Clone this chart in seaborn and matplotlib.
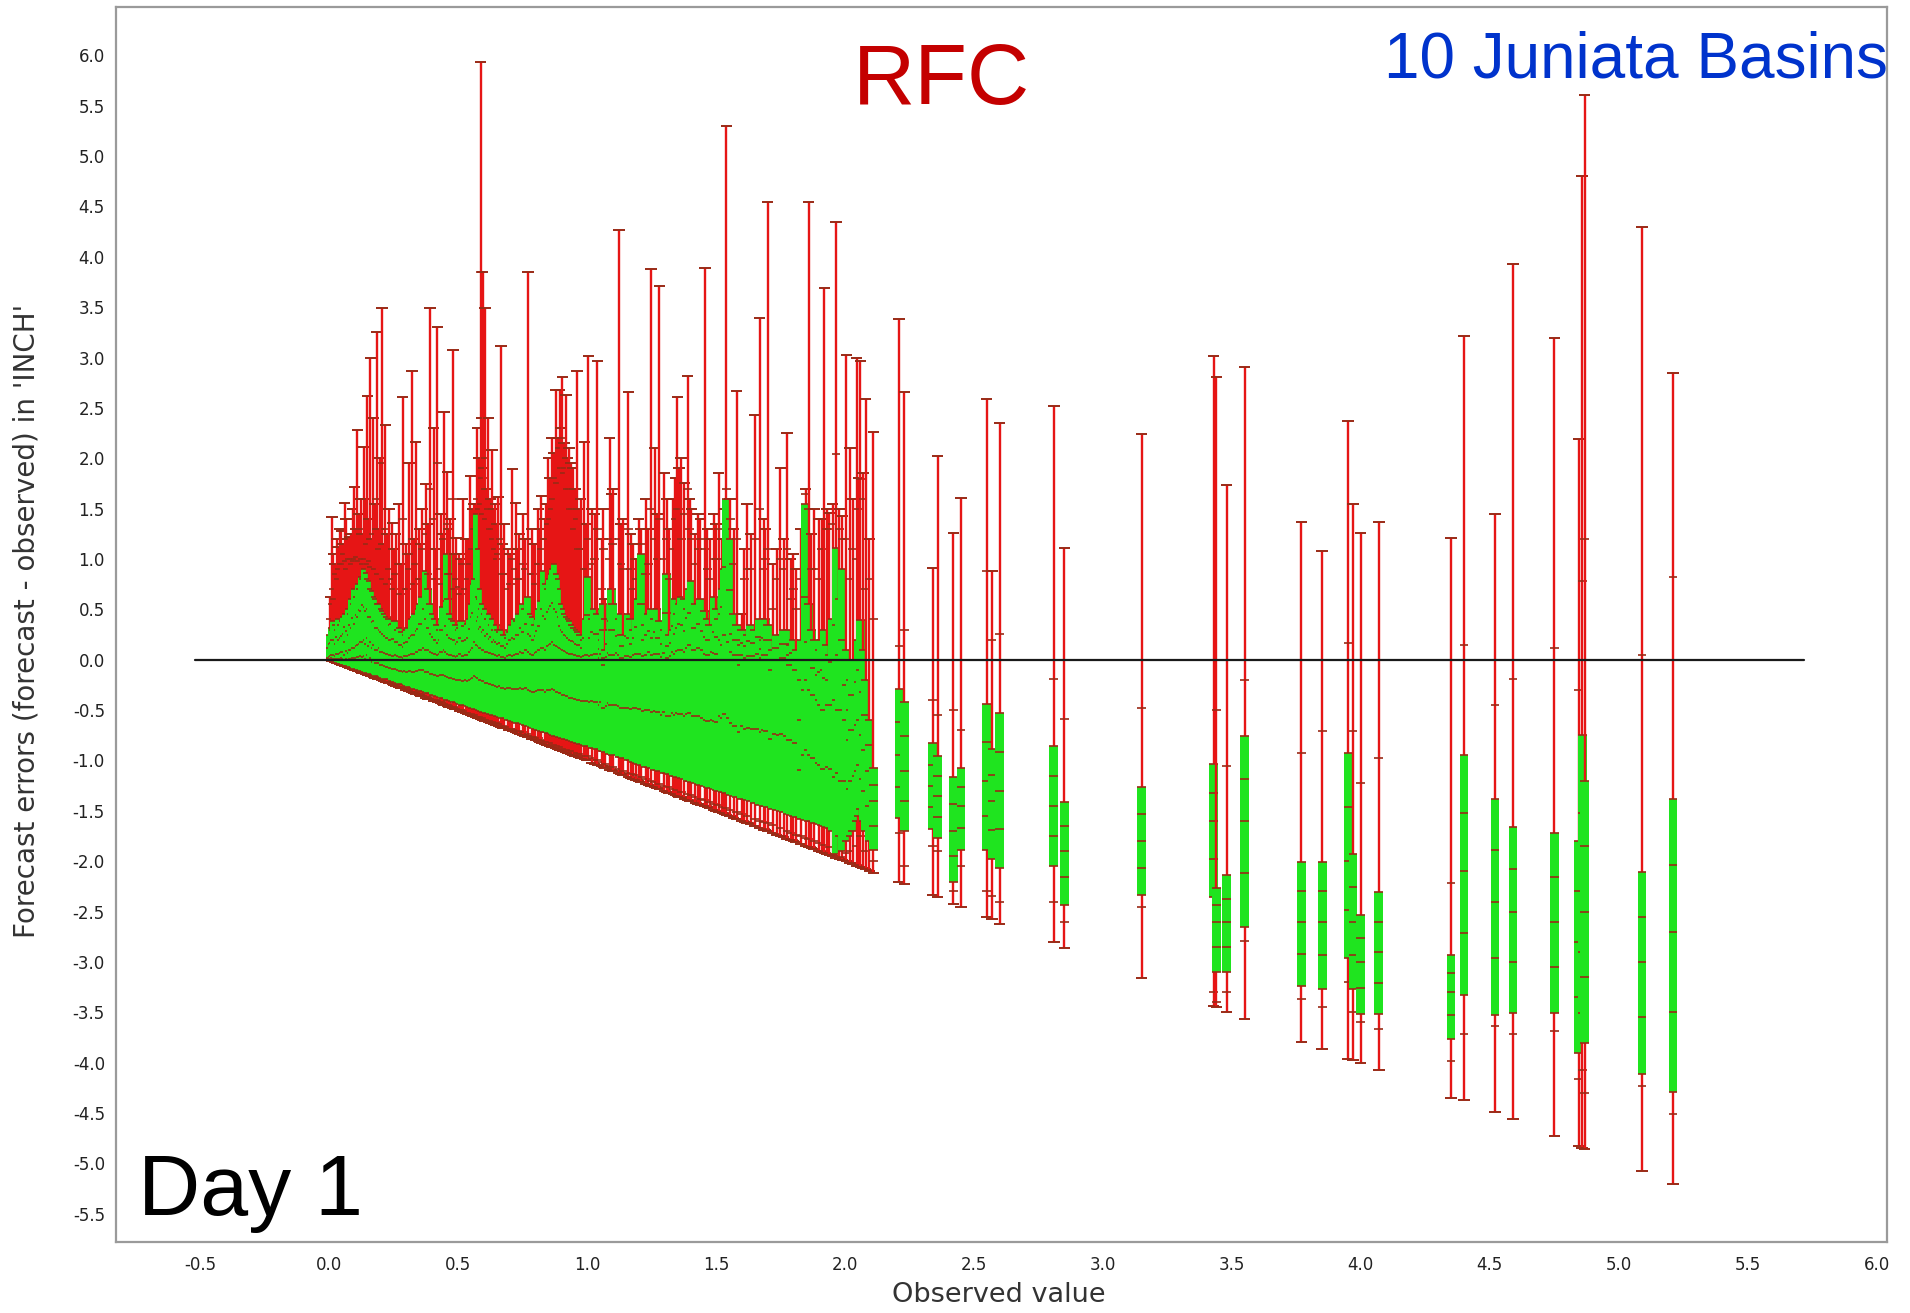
import numpy as np
import pandas as pd
import matplotlib
matplotlib.use("Agg")
import matplotlib.pyplot as plt
import seaborn as sns

# ---------------- data ----------------
# one entry per observed value: error quantiles of the forecasts (inches)
obs = [0.005, 0.012, 0.022, 0.035, 0.048, 0.060, 0.072, 0.085, 0.098, 0.110,
       0.122, 0.135, 0.148, 0.160, 0.172, 0.184, 0.196, 0.205, 0.218, 0.232,
       0.245, 0.258, 0.270, 0.285, 0.298, 0.310, 0.322, 0.336, 0.350, 0.362,
       0.376, 0.392, 0.405, 0.420, 0.433, 0.445, 0.458, 0.470, 0.480, 0.492,
       0.505, 0.518, 0.530, 0.548, 0.562, 0.575, 0.588, 0.596, 0.605, 0.618,
       0.632, 0.645, 0.656, 0.666, 0.680, 0.695, 0.710, 0.724, 0.738, 0.752,
       0.771, 0.785, 0.800, 0.812, 0.823, 0.836, 0.850, 0.864, 0.878, 0.894,
       0.905, 0.918, 0.930, 0.945, 0.961, 0.975, 0.990, 1.005, 1.020, 1.040,
       1.058, 1.070, 1.088, 1.100, 1.124, 1.140, 1.160, 1.178, 1.190, 1.210,
       1.228, 1.248, 1.262, 1.280, 1.300, 1.318, 1.335, 1.350, 1.365, 1.390,
       1.405, 1.420, 1.440, 1.457, 1.475, 1.492, 1.510, 1.525, 1.540, 1.555,
       1.580, 1.600, 1.620, 1.650, 1.670, 1.685, 1.700, 1.720, 1.750, 1.775,
       1.790, 1.810, 1.830, 1.848, 1.860, 1.880, 1.900, 1.920, 1.940, 1.965,
       1.990, 2.005, 2.020, 2.045, 2.060, 2.080, 2.110,
       0.017, 0.029, 0.041, 0.054, 0.066, 0.079, 0.091, 0.104, 0.116, 0.128,
       0.141, 0.154, 0.166, 0.178, 0.190, 0.212, 0.225, 0.251, 0.278, 0.304,
       0.329, 0.356, 0.384, 0.412, 0.439, 0.464, 0.486, 0.511, 0.539, 0.555,
       0.568, 0.582, 0.592, 0.600, 0.611, 0.625, 0.638, 0.651, 0.673, 0.702,
       0.731, 0.760, 0.792, 0.817, 0.843, 0.857, 0.871, 0.886, 0.899, 0.911,
       0.924, 0.937, 0.953, 0.968, 0.998, 1.030, 1.064, 1.094, 1.132, 1.169,
       1.200, 1.238, 1.271, 1.309, 1.342, 1.357, 1.378, 1.398, 1.430, 1.466,
       1.500, 1.532, 1.568, 1.610, 1.635, 1.692, 1.735, 1.762, 1.800, 1.870,
       1.910, 1.930, 1.952, 1.978, 2.030, 2.052, 2.070, 2.095,
       2.21, 2.23, 2.34, 2.36, 2.42, 2.45, 2.55, 2.57, 2.60, 2.81,
       2.85, 3.15, 3.43, 3.44, 3.48, 3.55, 3.77, 3.85, 3.95, 3.97,
       4.00, 4.07, 4.35, 4.40, 4.52, 4.59, 4.75, 4.845, 4.858, 4.868,
       5.09, 5.21]

err_min = [-0.005, -0.012, -0.02, -0.035, -0.05, -0.06, -0.07, -0.085, -0.10, -0.11,
           -0.12, -0.135, -0.15, -0.16, -0.17, -0.185, -0.195, -0.205, -0.22, -0.23,
           -0.245, -0.26, -0.27, -0.285, -0.30, -0.31, -0.32, -0.335, -0.35, -0.36,
           -0.375, -0.39, -0.405, -0.42, -0.43, -0.445, -0.46, -0.47, -0.48, -0.49,
           -0.505, -0.52, -0.53, -0.55, -0.56, -0.575, -0.59, -0.595, -0.605, -0.62,
           -0.63, -0.645, -0.655, -0.665, -0.68, -0.695, -0.71, -0.72, -0.74, -0.75,
           -0.77, -0.785, -0.80, -0.81, -0.825, -0.835, -0.85, -0.865, -0.88, -0.895,
           -0.905, -0.92, -0.93, -0.945, -0.96, -0.975, -0.99, -1.00, -1.02, -1.04,
           -1.055, -1.07, -1.09, -1.10, -1.12, -1.14, -1.16, -1.18, -1.19, -1.21,
           -1.23, -1.25, -1.26, -1.28, -1.30, -1.32, -1.335, -1.35, -1.365, -1.39,
           -1.40, -1.42, -1.44, -1.455, -1.475, -1.49, -1.51, -1.525, -1.54, -1.555,
           -1.58, -1.60, -1.62, -1.65, -1.67, -1.685, -1.70, -1.72, -1.75, -1.775,
           -1.79, -1.81, -1.83, -1.85, -1.86, -1.88, -1.90, -1.92, -1.94, -1.965,
           -1.99, -2.00, -2.02, -2.045, -2.06, -2.08, -2.12,
           -0.017, -0.03, -0.04, -0.055, -0.065, -0.08, -0.09, -0.105, -0.115, -0.13,
           -0.14, -0.155, -0.165, -0.18, -0.19, -0.21, -0.225, -0.25, -0.28, -0.305,
           -0.33, -0.355, -0.385, -0.41, -0.44, -0.465, -0.485, -0.51, -0.54, -0.555,
           -0.57, -0.58, -0.59, -0.60, -0.61, -0.625, -0.64, -0.65, -0.675, -0.70,
           -0.73, -0.76, -0.79, -0.82, -0.845, -0.86, -0.87, -0.885, -0.90, -0.91,
           -0.925, -0.935, -0.955, -0.97, -1.00, -1.03, -1.065, -1.095, -1.13, -1.17,
           -1.20, -1.24, -1.27, -1.31, -1.34, -1.36, -1.38, -1.40, -1.43, -1.465,
           -1.50, -1.53, -1.57, -1.61, -1.635, -1.69, -1.735, -1.76, -1.80, -1.87,
           -1.91, -1.93, -1.95, -1.98, -2.03, -2.05, -2.07, -2.10,
           -2.21, -2.23, -2.34, -2.36, -2.42, -2.45, -2.55, -2.57, -2.62, -2.80,
           -2.86, -3.16, -3.44, -3.45, -3.50, -3.57, -3.79, -3.86, -3.96, -3.97,
           -4.00, -4.07, -4.35, -4.37, -4.49, -4.56, -4.73, -4.83, -4.85, -4.86,
           -5.08, -5.20]

err_p10 = [-0.004, -0.01, -0.018, -0.032, -0.046, -0.056, -0.065, -0.08, -0.094, -0.10,
           -0.113, -0.126, -0.142, -0.15, -0.16, -0.175, -0.185, -0.195, -0.21, -0.218,
           -0.233, -0.245, -0.255, -0.27, -0.285, -0.295, -0.30, -0.318, -0.33, -0.342,
           -0.355, -0.37, -0.385, -0.40, -0.41, -0.424, -0.44, -0.45, -0.46, -0.47,
           -0.485, -0.50, -0.505, -0.525, -0.535, -0.55, -0.565, -0.57, -0.58, -0.595,
           -0.605, -0.62, -0.63, -0.64, -0.655, -0.67, -0.685, -0.695, -0.71, -0.72,
           -0.74, -0.755, -0.77, -0.78, -0.795, -0.805, -0.82, -0.83, -0.845, -0.86,
           -0.87, -0.885, -0.895, -0.91, -0.925, -0.94, -0.955, -0.96, -0.98, -1.00,
           -1.015, -1.03, -1.05, -1.06, -1.08, -1.10, -1.12, -1.13, -1.14, -1.16,
           -1.18, -1.20, -1.21, -1.23, -1.25, -1.265, -1.28, -1.295, -1.31, -1.33,
           -1.345, -1.36, -1.38, -1.39, -1.41, -1.43, -1.445, -1.46, -1.475, -1.49,
           -1.515, -1.535, -1.55, -1.58, -1.60, -1.61, -1.625, -1.645, -1.675, -1.70,
           -1.715, -1.735, -1.75, -1.77, -1.78, -1.80, -1.82, -1.84, -1.86, -1.95,
           -1.96, -1.92, -1.90, -1.85, -1.75, -1.90, -2.00,
           -0.015, -0.027, -0.038, -0.05, -0.06, -0.075, -0.086, -0.10, -0.11, -0.12,
           -0.135, -0.15, -0.16, -0.17, -0.18, -0.205, -0.22, -0.245, -0.27, -0.295,
           -0.32, -0.345, -0.375, -0.40, -0.43, -0.455, -0.475, -0.50, -0.53, -0.545,
           -0.56, -0.57, -0.58, -0.59, -0.60, -0.615, -0.63, -0.64, -0.665, -0.69,
           -0.72, -0.75, -0.78, -0.81, -0.835, -0.85, -0.86, -0.875, -0.89, -0.90,
           -0.915, -0.925, -0.945, -0.96, -0.99, -1.02, -1.055, -1.085, -1.12, -1.16,
           -1.19, -1.23, -1.26, -1.30, -1.33, -1.35, -1.37, -1.39, -1.42, -1.455,
           -1.49, -1.52, -1.56, -1.60, -1.625, -1.68, -1.725, -1.75, -1.79, -1.86,
           -1.90, -1.92, -1.94, -1.97, -2.02, -2.04, -2.06, -2.09,
           -1.72, -2.05, -1.85, -1.90, -2.30, -2.05, -2.30, -2.35, -2.40, -2.40,
           -2.60, -2.45, -3.30, -3.40, -3.30, -2.79, -3.37, -3.45, -3.20, -3.50,
           -3.60, -3.67, -3.98, -3.72, -3.64, -3.72, -3.69, -4.16, -4.07, -4.30,
           -4.23, -4.51]

box_low = [-0.003, -0.008, -0.015, -0.028, -0.04, -0.05, -0.058, -0.07, -0.085, -0.09,
           -0.10, -0.11, -0.13, -0.135, -0.14, -0.16, -0.165, -0.175, -0.19, -0.195,
           -0.21, -0.22, -0.23, -0.245, -0.25, -0.27, -0.27, -0.29, -0.30, -0.31,
           -0.32, -0.33, -0.35, -0.36, -0.37, -0.38, -0.40, -0.40, -0.41, -0.42,
           -0.43, -0.45, -0.45, -0.47, -0.48, -0.49, -0.50, -0.51, -0.52, -0.53,
           -0.54, -0.55, -0.56, -0.57, -0.58, -0.60, -0.61, -0.62, -0.63, -0.64,
           -0.66, -0.67, -0.69, -0.70, -0.71, -0.72, -0.73, -0.74, -0.76, -0.77,
           -0.78, -0.79, -0.80, -0.81, -0.83, -0.84, -0.85, -0.86, -0.88, -0.89,
           -0.91, -0.92, -0.94, -0.95, -0.97, -0.98, -1.00, -1.01, -1.02, -1.04,
           -1.06, -1.07, -1.09, -1.10, -1.12, -1.13, -1.15, -1.16, -1.17, -1.20,
           -1.21, -1.22, -1.24, -1.25, -1.27, -1.28, -1.30, -1.31, -1.32, -1.34,
           -1.36, -1.38, -1.39, -1.42, -1.44, -1.45, -1.46, -1.48, -1.50, -1.53,
           -1.54, -1.56, -1.58, -1.59, -1.60, -1.62, -1.63, -1.65, -1.67, -1.93,
           -1.90, -1.80, -1.75, -1.60, -1.48, -1.70, -1.89,
           -0.012, -0.022, -0.033, -0.045, -0.055, -0.065, -0.075, -0.088, -0.10, -0.11,
           -0.12, -0.13, -0.14, -0.15, -0.16, -0.18, -0.19, -0.215, -0.24, -0.26,
           -0.28, -0.30, -0.33, -0.35, -0.38, -0.40, -0.42, -0.44, -0.46, -0.48,
           -0.49, -0.50, -0.51, -0.52, -0.53, -0.54, -0.55, -0.56, -0.58, -0.60,
           -0.63, -0.65, -0.68, -0.70, -0.72, -0.73, -0.75, -0.76, -0.77, -0.78,
           -0.79, -0.80, -0.82, -0.83, -0.86, -0.88, -0.91, -0.94, -0.97, -1.00,
           -1.03, -1.06, -1.09, -1.12, -1.15, -1.16, -1.18, -1.20, -1.23, -1.26,
           -1.29, -1.31, -1.35, -1.38, -1.40, -1.45, -1.49, -1.51, -1.55, -1.60,
           -1.64, -1.66, -1.70, -1.75, -1.70, -1.55, -1.60, -1.80,
           -1.57, -1.70, -1.68, -1.77, -2.21, -1.89, -1.89, -1.98, -2.07, -2.05,
           -2.43, -2.34, -2.36, -3.10, -3.10, -2.65, -3.24, -3.27, -2.96, -3.27,
           -3.52, -3.52, -3.76, -3.33, -3.53, -3.51, -3.51, -3.90, -3.51, -3.80,
           -4.11, -4.29]

err_p30 = [0.01, 0.01, 0.02, 0.01, 0.01, 0.02, 0.00, 0.00, 0.01, 0.02,
           0.03, 0.04, 0.04, 0.05, 0.02, 0.00, -0.03, -0.03, -0.05, -0.07,
           -0.08, -0.09, -0.09, -0.11, -0.12, -0.12, -0.11, -0.12, -0.11, -0.10,
           -0.10, -0.12, -0.14, -0.15, -0.16, -0.15, -0.15, -0.17, -0.18, -0.19,
           -0.20, -0.20, -0.21, -0.21, -0.19, -0.16, -0.18, -0.20, -0.21, -0.23,
           -0.24, -0.25, -0.26, -0.27, -0.28, -0.29, -0.28, -0.29, -0.29, -0.28,
           -0.28, -0.30, -0.32, -0.32, -0.30, -0.30, -0.32, -0.30, -0.29, -0.32,
           -0.33, -0.35, -0.36, -0.38, -0.39, -0.40, -0.41, -0.41, -0.42, -0.42,
           -0.45, -0.48, -0.46, -0.45, -0.45, -0.48, -0.48, -0.49, -0.48, -0.49,
           -0.51, -0.50, -0.52, -0.52, -0.55, -0.56, -0.56, -0.55, -0.54, -0.56,
           -0.53, -0.56, -0.56, -0.58, -0.61, -0.60, -0.62, -0.56, -0.54, -0.58,
           -0.66, -0.72, -0.69, -0.69, -0.69, -0.72, -0.71, -0.79, -0.75, -0.76,
           -0.80, -0.83, -1.09, -0.95, -0.90, -0.98, -1.02, -1.08, -1.06, -1.16,
           -1.20, -1.20, -1.28, -1.15, -1.04, -1.30, -1.65,
           0.01, 0.01, 0.01, 0.01, 0.01, 0.01, 0.01, 0.02, 0.02, 0.03,
           0.03, 0.01, 0.00, -0.02, -0.03, -0.05, -0.06, -0.08, -0.10, -0.11,
           -0.11, -0.11, -0.12, -0.14, -0.16, -0.16, -0.18, -0.20, -0.20, -0.20,
           -0.18, -0.17, -0.18, -0.20, -0.21, -0.23, -0.24, -0.25, -0.26, -0.28,
           -0.29, -0.29, -0.31, -0.31, -0.30, -0.30, -0.30, -0.30, -0.32, -0.33,
           -0.35, -0.36, -0.38, -0.39, -0.41, -0.41, -0.42, -0.43, -0.46, -0.48,
           -0.48, -0.50, -0.51, -0.52, -0.53, -0.53, -0.54, -0.54, -0.56, -0.60,
           -0.61, -0.58, -0.63, -0.66, -0.68, -0.70, -0.74, -0.74, -0.80, -0.95,
           -1.04, -1.08, -1.08, -1.12, -1.20, -1.10, -1.18, -1.45,
           -1.26, -1.40, -1.46, -1.56, -1.95, -1.67, -1.55, -1.69, -1.68, -1.75,
           -2.16, -2.07, -1.98, -2.85, -2.85, -2.12, -2.92, -2.93, -2.48, -2.93,
           -3.26, -3.21, -3.53, -2.71, -2.96, -3.00, -3.05, -3.35, -2.90, -3.15,
           -3.55, -3.50]

err_median = [0.02, 0.03, 0.05, 0.04, 0.06, 0.08, 0.05, 0.07, 0.10, 0.12,
              0.15, 0.18, 0.20, 0.22, 0.18, 0.15, 0.10, 0.12, 0.08, 0.06,
              0.05, 0.04, 0.05, 0.03, 0.02, 0.04, 0.05, 0.06, 0.08, 0.10,
              0.12, 0.10, 0.08, 0.06, 0.05, 0.08, 0.10, 0.06, 0.05, 0.04,
              0.03, 0.06, 0.04, 0.05, 0.10, 0.18, 0.15, 0.12, 0.10, 0.08,
              0.07, 0.06, 0.05, 0.04, 0.03, 0.02, 0.05, 0.04, 0.06, 0.08,
              0.10, 0.08, 0.05, 0.07, 0.10, 0.12, 0.10, 0.15, 0.18, 0.14,
              0.12, 0.10, 0.08, 0.06, 0.05, 0.04, 0.03, 0.05, 0.04, 0.06,
              0.02, -0.05, 0.03, 0.05, 0.07, 0.02, 0.04, 0.03, 0.05, 0.06,
              0.04, 0.08, 0.05, 0.06, 0.03, 0.02, 0.04, 0.06, 0.10, 0.08,
              0.15, 0.10, 0.12, 0.10, 0.05, 0.08, 0.06, 0.20, 0.25, 0.18,
              0.05, -0.05, 0.02, 0.04, 0.06, 0.02, 0.05, -0.10, 0.00, 0.02,
              -0.05, -0.10, -0.60, -0.30, -0.20, -0.35, -0.40, -0.50, -0.45, -0.40,
              -0.50, -0.60, -0.80, -0.70, -0.60, -0.90, -1.40,
              0.04, 0.05, 0.06, 0.07, 0.08, 0.09, 0.10, 0.12, 0.14, 0.16,
              0.18, 0.16, 0.14, 0.12, 0.10, 0.08, 0.07, 0.05, 0.04, 0.04,
              0.06, 0.08, 0.10, 0.07, 0.06, 0.08, 0.05, 0.04, 0.05, 0.08,
              0.12, 0.15, 0.14, 0.12, 0.10, 0.08, 0.07, 0.06, 0.05, 0.04,
              0.05, 0.07, 0.06, 0.08, 0.12, 0.14, 0.16, 0.15, 0.13, 0.11,
              0.09, 0.07, 0.06, 0.05, 0.04, 0.05, 0.06, 0.07, 0.05, 0.04,
              0.06, 0.05, 0.06, 0.07, 0.08, 0.09, 0.10, 0.12, 0.10, 0.06,
              0.07, 0.15, 0.08, 0.05, 0.04, 0.05, 0.00, 0.02, -0.05, -0.30,
              -0.45, -0.50, -0.45, -0.50, -0.70, -0.65, -0.75, -1.10,
              -0.95, -1.10, -1.25, -1.35, -1.70, -1.45, -1.20, -1.40, -1.30, -1.45,
              -1.90, -1.80, -1.60, -2.60, -2.60, -1.60, -2.60, -2.60, -2.00, -2.60,
              -3.00, -2.90, -3.30, -2.10, -2.40, -2.50, -2.60, -2.80, -2.30, -2.50,
              -3.00, -2.70]

err_p70 = [0.12, 0.16, 0.20, 0.16, 0.20, 0.24, 0.18, 0.25, 0.32, 0.36,
           0.42, 0.48, 0.52, 0.50, 0.42, 0.38, 0.32, 0.30, 0.26, 0.22,
           0.20, 0.21, 0.18, 0.15, 0.13, 0.18, 0.22, 0.25, 0.29, 0.36,
           0.50, 0.32, 0.26, 0.20, 0.17, 0.30, 0.58, 0.25, 0.22, 0.20,
           0.16, 0.22, 0.19, 0.22, 0.42, 0.80, 0.38, 0.31, 0.28, 0.24,
           0.21, 0.18, 0.18, 0.16, 0.14, 0.12, 0.20, 0.22, 0.25, 0.32,
           0.36, 0.26, 0.20, 0.24, 0.34, 0.50, 0.40, 0.50, 0.56, 0.47,
           0.34, 0.28, 0.24, 0.20, 0.18, 0.15, 0.12, 0.44, 0.22, 0.26,
           0.11, 0.02, 0.16, 0.30, 0.24, 0.14, 0.24, 0.16, 0.22, 0.55,
           0.20, 0.29, 0.22, 0.22, 0.16, 0.14, 0.17, 0.26, 0.36, 0.29,
           0.46, 0.32, 0.36, 0.29, 0.20, 0.35, 0.23, 0.45, 0.92, 0.69,
           0.20, 0.05, 0.14, 0.17, 0.23, 0.11, 0.20, 0.00, 0.12, 0.16,
           0.05, 0.00, -0.20, 0.62, 0.18, -0.08, -0.15, -0.10, -0.20, 0.35,
           0.20, -0.25, -0.50, -0.35, -0.10, -0.55, -1.24,
           0.17, 0.20, 0.23, 0.22, 0.26, 0.29, 0.35, 0.41, 0.44, 0.49,
           0.54, 0.48, 0.42, 0.37, 0.32, 0.28, 0.24, 0.20, 0.18, 0.17,
           0.24, 0.31, 0.40, 0.23, 0.20, 0.34, 0.21, 0.18, 0.20, 0.31,
           0.46, 0.62, 0.42, 0.33, 0.30, 0.26, 0.23, 0.20, 0.17, 0.16,
           0.21, 0.28, 0.24, 0.29, 0.43, 0.47, 0.53, 0.50, 0.42, 0.30,
           0.25, 0.22, 0.19, 0.16, 0.22, 0.28, 0.30, 0.38, 0.25, 0.22,
           0.33, 0.25, 0.28, 0.46, 0.34, 0.32, 0.35, 0.41, 0.32, 0.23,
           0.28, 0.52, 0.26, 0.17, 0.19, 0.22, 0.12, 0.16, 0.07, 0.00,
           -0.12, -0.18, -0.02, 0.05, -0.35, -0.22, -0.32, -0.85,
           -0.62, -0.76, -1.04, -1.15, -1.43, -1.26, -0.82, -1.14, -0.92, -1.15,
           -1.65, -1.53, -1.32, -2.43, -2.37, -1.18, -2.30, -2.30, -1.46, -2.26,
           -2.76, -2.60, -3.11, -1.52, -1.89, -2.08, -2.16, -2.30, -1.52, -1.85,
           -2.55, -2.04]

box_high = [0.25, 0.32, 0.38, 0.30, 0.35, 0.42, 0.33, 0.45, 0.55, 0.62,
            0.70, 0.80, 0.86, 0.78, 0.68, 0.60, 0.55, 0.50, 0.45, 0.40,
            0.35, 0.38, 0.30, 0.28, 0.25, 0.32, 0.40, 0.45, 0.50, 0.62,
            0.88, 0.55, 0.45, 0.35, 0.30, 0.52, 1.05, 0.45, 0.40, 0.35,
            0.30, 0.38, 0.34, 0.40, 0.75, 1.45, 0.60, 0.50, 0.45, 0.40,
            0.35, 0.30, 0.30, 0.28, 0.25, 0.22, 0.35, 0.40, 0.45, 0.55,
            0.62, 0.45, 0.35, 0.40, 0.58, 0.88, 0.70, 0.85, 0.95, 0.80,
            0.55, 0.45, 0.40, 0.35, 0.30, 0.25, 0.20, 0.82, 0.40, 0.45,
            0.20, 0.10, 0.30, 0.55, 0.40, 0.25, 0.45, 0.30, 0.40, 1.05,
            0.35, 0.50, 0.40, 0.38, 0.30, 0.25, 0.30, 0.45, 0.62, 0.50,
            0.78, 0.55, 0.60, 0.48, 0.35, 0.62, 0.40, 0.70, 1.60, 1.20,
            0.35, 0.15, 0.25, 0.30, 0.40, 0.20, 0.35, 0.10, 0.25, 0.30,
            0.15, 0.10, 0.20, 1.55, 0.55, 0.20, 0.10, 0.30, 0.05, 1.11,
            0.90, 0.10, -0.20, 0.00, 0.39, -0.20, -1.07,
            0.30, 0.35, 0.40, 0.38, 0.45, 0.50, 0.60, 0.70, 0.75, 0.82,
            0.90, 0.80, 0.70, 0.62, 0.55, 0.48, 0.42, 0.36, 0.32, 0.30,
            0.42, 0.55, 0.70, 0.40, 0.35, 0.60, 0.38, 0.32, 0.36, 0.55,
            0.80, 1.10, 0.70, 0.55, 0.50, 0.45, 0.40, 0.35, 0.30, 0.28,
            0.38, 0.50, 0.42, 0.50, 0.75, 0.80, 0.90, 0.85, 0.70, 0.50,
            0.42, 0.38, 0.32, 0.28, 0.40, 0.50, 0.55, 0.70, 0.45, 0.40,
            0.60, 0.45, 0.50, 0.85, 0.60, 0.55, 0.60, 0.70, 0.55, 0.40,
            0.50, 0.90, 0.45, 0.30, 0.35, 0.40, 0.25, 0.30, 0.20, 0.30,
            0.20, 0.15, 0.40, 0.60, 0.00, 0.20, 0.10, -0.60,
            -0.29, -0.42, -0.83, -0.96, -1.16, -1.07, -0.44, -0.89, -0.53, -0.86,
            -1.41, -1.26, -1.03, -2.27, -2.14, -0.76, -2.01, -2.01, -0.93, -1.93,
            -2.53, -2.31, -2.93, -0.95, -1.38, -1.66, -1.72, -1.80, -0.75, -1.20,
            -2.11, -1.38]

err_p90 = [0.40, 0.55, 0.60, 0.80, 0.95, 1.05, 0.90, 1.00, 0.98, 1.02,
           1.30, 0.95, 1.15, 0.98, 1.25, 1.60, 1.10, 1.95, 1.30, 0.90,
           0.80, 0.85, 0.95, 1.40, 0.70, 0.90, 1.05, 0.95, 0.80, 1.10,
           1.25, 1.70, 1.40, 1.95, 0.90, 1.20, 1.35, 0.85, 1.60, 0.80,
           0.72, 0.95, 0.70, 0.95, 1.30, 1.60, 3.85, 1.80, 2.00, 1.50,
           1.30, 1.10, 1.05, 1.20, 0.85, 0.70, 1.00, 0.90, 0.80, 0.95,
           1.20, 0.85, 0.75, 0.95, 1.10, 1.20, 1.35, 1.50, 1.80, 2.10,
           2.20, 1.90, 1.70, 1.50, 1.40, 1.10, 0.90, 1.20, 0.95, 1.30,
           0.70, 0.40, 1.00, 1.15, 1.20, 0.90, 1.30, 0.70, 0.80, 1.15,
           0.85, 1.50, 1.20, 1.40, 1.00, 0.80, 1.10, 1.50, 1.20, 1.70,
           1.20, 0.95, 1.20, 1.10, 0.80, 1.00, 1.30, 1.00, 1.70, 1.40,
           1.20, 0.30, 0.90, 1.20, 1.50, 0.90, 1.10, 0.50, 1.00, 1.10,
           0.60, 0.50, 0.80, 1.65, 1.50, 0.90, 0.80, 1.40, 1.30, 2.04,
           1.20, 1.20, 0.80, 1.00, 1.79, 0.70, 0.40,
           0.70, 0.85, 0.90, 0.95, 0.98, 1.00, 0.95, 1.00, 0.98, 1.00,
           1.00, 0.95, 0.92, 0.90, 0.85, 0.80, 0.75, 0.70, 0.65, 0.70,
           0.75, 0.80, 0.85, 0.80, 0.75, 0.85, 0.70, 0.65, 0.80, 1.10,
           1.30, 1.50, 1.55, 1.45, 1.40, 1.30, 1.20, 1.00, 0.85, 0.75,
           0.80, 0.90, 0.85, 0.95, 1.20, 1.40, 1.60, 1.75, 1.90, 1.85,
           1.70, 1.50, 1.30, 1.10, 0.90, 1.00, 1.10, 1.20, 0.95, 0.90,
           1.00, 0.95, 1.00, 1.20, 1.40, 1.50, 1.45, 1.30, 1.10, 0.90,
           1.00, 1.20, 0.95, 0.80, 0.90, 1.00, 0.80, 0.90, 0.70, 0.90,
           1.10, 1.30, 1.35, 1.30, 1.10, 1.50, 1.60, 0.80,
           0.14, 0.30, -0.40, -0.55, -0.50, -0.70, 0.88, 0.20, 0.26, -0.19,
           -0.59, -0.48, 0.00, -0.50, -1.05, -0.20, -0.93, -0.71, 0.17, -0.71,
           -1.22, -0.98, -2.22, 0.15, -0.45, -0.19, 0.12, -0.30, 0.78, 1.20,
           0.05, 0.82]

err_max = [0.62, 1.42, 0.95, 1.12, 1.28, 1.56, 1.20, 1.25, 1.72, 2.28,
           1.60, 2.11, 2.62, 3.00, 2.40, 3.25, 2.00, 3.49, 2.33, 1.50,
           1.36, 1.25, 1.55, 2.61, 1.15, 1.95, 2.87, 2.16, 1.30, 1.50,
           1.74, 3.49, 2.30, 3.30, 1.45, 2.46, 1.86, 1.40, 3.08, 1.21,
           1.05, 1.60, 1.20, 1.82, 1.55, 2.30, 5.93, 3.85, 3.49, 2.40,
           2.08, 1.55, 1.62, 3.11, 1.35, 1.10, 1.89, 1.56, 1.25, 1.45,
           3.85, 1.30, 1.15, 1.50, 1.63, 1.40, 2.00, 2.20, 2.68, 2.68,
           2.81, 2.63, 2.10, 1.90, 2.87, 1.60, 2.16, 3.02, 1.50, 2.97,
           1.20, 0.60, 2.20, 1.70, 4.27, 1.40, 2.66, 1.15, 1.00, 1.30,
           1.60, 3.88, 2.10, 3.71, 1.85, 1.30, 1.60, 2.61, 2.00, 2.82,
           1.50, 1.25, 1.40, 3.89, 1.20, 1.45, 1.85, 1.20, 5.30, 1.60,
           2.67, 0.45, 1.55, 2.43, 3.39, 1.40, 4.54, 0.95, 1.90, 2.25,
           1.00, 0.90, 1.30, 1.70, 4.54, 1.50, 1.40, 3.69, 1.46, 4.35,
           1.43, 3.03, 2.10, 3.00, 2.97, 2.59, 2.26,
           1.05, 1.20, 1.30, 1.15, 1.40, 1.22, 1.50, 1.30, 1.45, 1.25,
           1.60, 1.40, 1.20, 1.55, 1.30, 1.15, 1.25, 1.10, 0.95, 1.05,
           1.20, 1.15, 1.35, 1.10, 1.25, 1.30, 1.05, 1.00, 1.20, 1.50,
           1.55, 2.00, 2.40, 1.90, 1.70, 1.60, 1.50, 1.35, 1.15, 1.05,
           1.10, 1.20, 1.15, 1.30, 1.55, 1.80, 2.05, 2.20, 2.30, 2.15,
           2.00, 1.95, 1.70, 1.50, 1.35, 1.45, 1.50, 1.65, 1.35, 1.25,
           1.40, 1.30, 1.45, 1.60, 1.80, 1.90, 1.75, 1.60, 1.45, 1.30,
           1.35, 1.50, 1.30, 1.10, 1.25, 1.30, 1.10, 1.20, 1.05, 1.25,
           1.40, 1.50, 1.55, 1.50, 1.60, 1.80, 1.85, 1.20,
           3.38, 2.66, 0.91, 2.02, 1.26, 1.61, 2.59, 0.88, 2.35, 2.52,
           1.11, 2.24, 3.02, 2.81, 1.73, 2.91, 1.37, 1.08, 2.37, 1.55,
           1.26, 1.37, 1.21, 3.21, 1.45, 3.93, 3.19, 2.19, 4.80, 5.61,
           4.30, 2.85]

x_ticks = [-0.5, 0.0, 0.5, 1.0, 1.5, 2.0, 2.5, 3.0, 3.5, 4.0, 4.5, 5.0, 5.5, 6.0]
y_ticks = [6.0, 5.5, 5.0, 4.5, 4.0, 3.5, 3.0, 2.5, 2.0, 1.5, 1.0, 0.5, 0.0,
           -0.5, -1.0, -1.5, -2.0, -2.5, -3.0, -3.5, -4.0, -4.5, -5.0, -5.5]

df = pd.DataFrame({"obs": obs, "lo": err_min, "p10": err_p10, "q_lo": box_low,
                   "p30": err_p30, "med": err_median, "p70": err_p70,
                   "q_hi": box_high, "p90": err_p90, "hi": err_max})
df = df.sort_values("obs", kind="stable").reset_index(drop=True)

# ---------------- style ----------------
sns.set_theme(style="white")
plt.rcParams["font.family"] = ["DejaVu Sans"]

RED = "#e61515"
DARK = "#9a2a16"
GREEN = "#1fe41f"

fig = plt.figure(figsize=(19.10, 13.13), dpi=100)
ax = fig.add_axes([0.06073, 0.05407, 0.92723, 0.94059])
ax.set_facecolor("white")

box_w = 0.034
cap_hw = 0.022
tick_hw = 0.017
inner = ["p10", "q_lo", "p30", "med", "p70", "q_hi", "p90"]
# each box drawn in turn (whisker, box, ticks); later boxes sit over earlier ones
for i, r in df.iterrows():
    z = 2 + i * 0.004
    ax.vlines(r["obs"], r["lo"], r["hi"], color=RED, lw=1.7, zorder=z)
    ax.bar(r["obs"], r["q_hi"] - r["q_lo"], bottom=r["q_lo"], width=box_w,
           color=GREEN, edgecolor="none", zorder=z + 0.001)
    ax.hlines([r["lo"], r["hi"]], r["obs"] - cap_hw, r["obs"] + cap_hw,
              color=DARK, lw=1.4, zorder=z + 0.002)
    ax.hlines([r[c] for c in inner], r["obs"] - tick_hw, r["obs"] + tick_hw,
              color=DARK, lw=1.2, zorder=z + 0.002)

# zero reference line
sns.lineplot(x=[-0.52, 5.72], y=[0.0, 0.0], color="#1a1a1a", lw=1.6, ax=ax, zorder=10)

ax.set_xlim(-0.826, 6.04)
ax.set_ylim(-5.78, 6.48)
ax.set_xticks(x_ticks)
ax.set_xticklabels([f"{v:.1f}" for v in x_ticks])
ax.set_yticks(y_ticks)
ax.set_yticklabels([f"{v:.1f}" for v in y_ticks])
ax.tick_params(axis="both", which="major", direction="out", length=4, width=1,
               color="#888888", labelsize=12, labelcolor="#222222")
ax.tick_params(axis="x", pad=6)
ax.tick_params(axis="y", pad=4)
for s in ax.spines.values():
    s.set_color("#9a9a9a")
    s.set_linewidth(1.6)

ax.set_xlabel("Observed value", fontsize=19.5, color="#333333")
ax.xaxis.label.set_verticalalignment("center")
ax.xaxis.set_label_coords(0.4986, -0.0429)
ax.set_ylabel("Forecast errors (forecast - observed) in 'INCH'", fontsize=20, color="#333333")
ax.yaxis.label.set_verticalalignment("center")
ax.yaxis.set_label_coords(-0.0503, 0.503)

# annotations
fig.text(941 / 1910, 1 - 104 / 1313, "RFC", ha="center", va="baseline",
         fontsize=62, color="#c40000", family=["Liberation Sans", "DejaVu Sans"])
fig.text(1888 / 1910, 1 - 78 / 1313, "10 Juniata Basins", ha="right", va="baseline",
         fontsize=46, color="#0033cc", family=["Liberation Sans", "DejaVu Sans"])
fig.text(138 / 1910, 1 - 1215 / 1313, "Day 1", ha="left", va="baseline",
         fontsize=62, color="black", family=["Liberation Sans", "DejaVu Sans"])

fig.savefig("out.png", dpi=100, facecolor="white")
